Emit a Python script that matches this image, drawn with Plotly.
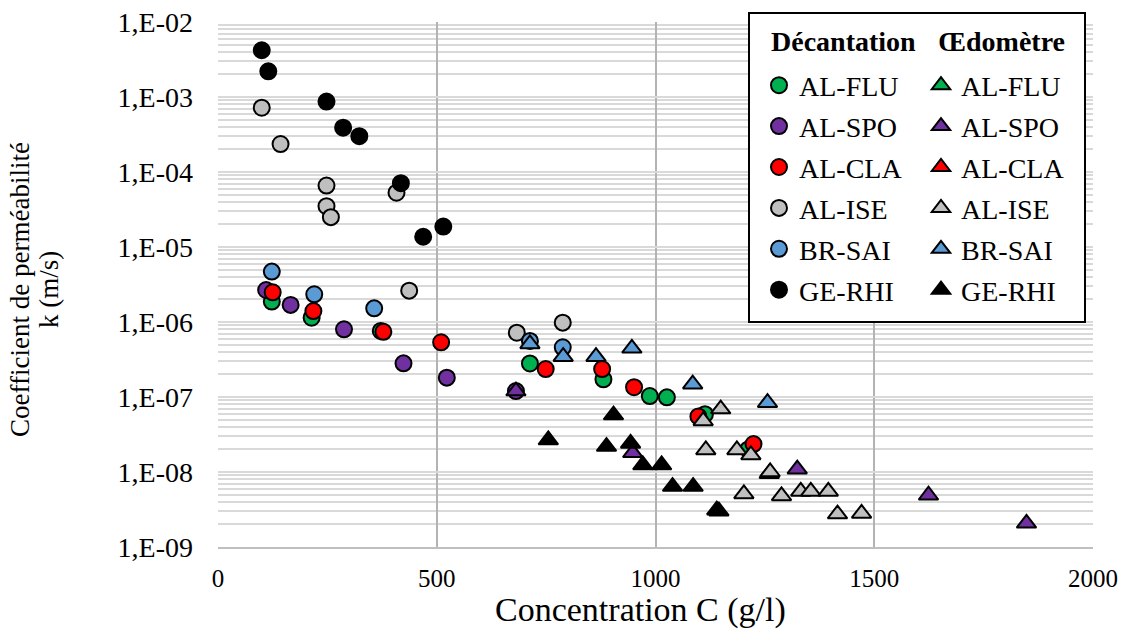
import plotly.graph_objects as go

FONT = "Liberation Serif"

# ---------------- data (concentration g/l, permeability m/s) ----------------
# Décantation (circles)
dec_flu_c = [123, 214, 372, 713, 881, 987, 1026, 1113, 1212]
dec_flu_k = [1.87e-6, 1.14e-6, 7.6e-7, 2.8e-7, 1.72e-7, 1.03e-7, 9.9e-8, 5.9e-8, 2.0e-8]

dec_spo_c = [110, 166, 288, 424, 523, 681]
dec_spo_k = [2.67e-6, 1.69e-6, 8.0e-7, 2.81e-7, 1.81e-7, 1.2e-7]

dec_cla_c = [125, 218, 378, 510, 749, 878, 951, 1098, 1224]
dec_cla_k = [2.49e-6, 1.4e-6, 7.4e-7, 5.36e-7, 2.36e-7, 2.36e-7, 1.35e-7, 5.5e-8, 2.36e-8]

dec_ise_c = [100, 143, 248, 248, 258, 408, 437, 683, 788]
dec_ise_k = [7.2e-4, 2.36e-4, 6.6e-5, 3.5e-5, 2.5e-5, 5.3e-5, 2.62e-6, 7.2e-7, 9.8e-7]

dec_sai_c = [123, 220, 357, 713, 788]
dec_sai_k = [4.7e-6, 2.34e-6, 1.52e-6, 5.6e-7, 4.6e-7]

dec_rhi_c = [100, 115, 248, 286, 323, 418, 469, 515]
dec_rhi_k = [4.2e-3, 2.2e-3, 8.7e-4, 3.9e-4, 3.0e-4, 7.1e-5, 1.37e-5, 1.87e-5]

# Œdomètre (triangles) -- no visible points for AL-FLU / AL-CLA
oed_flu_c = [None]
oed_flu_k = [None]

oed_spo_c = [681, 948, 1324, 1624, 1848]
oed_spo_k = [1.2e-7, 1.8e-8, 1.09e-8, 4.9e-9, 2.07e-9]

oed_cla_c = [None]
oed_cla_k = [None]

oed_ise_c = [1109, 1149, 1115, 1186, 1218, 1260, 1262, 1202, 1288, 1332, 1355, 1395, 1416, 1471]
oed_ise_k = [4.8e-8, 6.9e-8, 1.97e-8, 1.97e-8, 1.69e-8, 9.5e-9, 1.0e-8, 5.1e-9, 4.8e-9,
             5.5e-9, 5.5e-9, 5.5e-9, 2.75e-9, 2.8e-9]

oed_sai_c = [713, 789, 864, 946, 1085, 1256]
oed_sai_k = [5.1e-7, 3.45e-7, 3.45e-7, 4.46e-7, 1.48e-7, 8.4e-8]

oed_rhi_c = [755, 888, 904, 943, 971, 1014, 1039, 1086, 1140, 1145]
oed_rhi_k = [2.67e-8, 2.18e-8, 5.75e-8, 2.4e-8, 1.24e-8, 1.24e-8, 6.4e-9, 6.4e-9, 3.1e-9, 3.0e-9]

names = ["AL-FLU", "AL-SPO", "AL-CLA", "AL-ISE", "BR-SAI", "GE-RHI"]
colors = ["#00B050", "#7030A0", "#FF0000", "#BFBFBF", "#5B9BD5", "#000000"]

dec_series = [(dec_flu_c, dec_flu_k), (dec_spo_c, dec_spo_k), (dec_cla_c, dec_cla_k),
              (dec_ise_c, dec_ise_k), (dec_sai_c, dec_sai_k), (dec_rhi_c, dec_rhi_k)]
oed_series = [(oed_flu_c, oed_flu_k), (oed_spo_c, oed_spo_k), (oed_cla_c, oed_cla_k),
              (oed_ise_c, oed_ise_k), (oed_sai_c, oed_sai_k), (oed_rhi_c, oed_rhi_k)]

ytick_vals = [1e-9, 1e-8, 1e-7, 1e-6, 1e-5, 1e-4, 1e-3, 1e-2]
ytick_text = ["1,E-09", "1,E-08", "1,E-07", "1,E-06", "1,E-05", "1,E-04", "1,E-03", "1,E-02"]
xtick_vals = [0, 500, 1000, 1500, 2000]

fig = go.Figure()

for (c, k), name, col in zip(dec_series, names, colors):
    fig.add_trace(go.Scatter(
        x=c, y=k, mode="markers", name=name, legend="legend", legendgroup="d" + name,
        marker=dict(symbol="circle", size=16, color=col, line=dict(color="black", width=2)),
    ))

for (c, k), name, col in zip(oed_series, names, colors):
    fig.add_trace(go.Scatter(
        x=c, y=k, mode="markers", name=name, legend="legend2", legendgroup="o" + name,
        marker=dict(symbol="triangle-up", size=17, color=col, line=dict(color="black", width=2)),
    ))

PX_L, PX_R, PX_T, PX_B = 218, 1093, 22, 547
W, H = PX_R - PX_L, PX_B - PX_T


def px_x(p):
    return (p - PX_L) / W


def px_y(p):
    return (PX_B - p) / H


legend_font = dict(family=FONT, size=28, color="black")

fig.update_layout(
    width=1124, height=631,
    margin=dict(l=PX_L, r=1124 - PX_R, t=PX_T, b=631 - PX_B),
    paper_bgcolor="white", plot_bgcolor="white",
    font=dict(family=FONT, color="black"),
    xaxis=dict(
        range=[0, 2000], tickvals=xtick_vals, showgrid=True, gridcolor="#B3B3B3", gridwidth=1.5,
        zeroline=False, showline=True, linecolor="#BFBFBF", linewidth=1.5, ticks="",
        tickfont=dict(family=FONT, size=25, color="black"), automargin=False,
        ticklabelstandoff=8,
    ),
    yaxis=dict(
        type="log", range=[-9, -2], tickvals=ytick_vals, ticktext=ytick_text,
        showgrid=True, gridcolor="#D9D9D9", gridwidth=1.5, zeroline=False,
        showline=False, ticks="",
        minor=dict(dtick="D1", showgrid=True, gridcolor="#D9D9D9", gridwidth=1.5, ticks=""),
        tickfont=dict(family=FONT, size=28, color="black"), automargin=False,
        ticklabelstandoff=24,
    ),
    showlegend=True,
    legend=dict(
        x=px_x(759), y=px_y(60.5), xanchor="left", yanchor="top", bgcolor="rgba(0,0,0,0)",
        font=legend_font, tracegroupgap=1.5, itemsizing="trace",
    ),
    legend2=dict(
        x=px_x(921), y=px_y(60.5), xanchor="left", yanchor="top", bgcolor="rgba(0,0,0,0)",
        font=legend_font, tracegroupgap=1.5, itemsizing="trace",
    ),
    shapes=[dict(type="rect", xref="paper", yref="paper",
                 x0=px_x(749), x1=px_x(1085), y0=px_y(322), y1=px_y(13),
                 line=dict(color="black", width=2), fillcolor="white", layer="above")],
    annotations=[
        dict(text="<b>Décantation</b>", xref="paper", yref="paper",
             x=px_x(769), y=px_y(42), xanchor="left", yanchor="middle",
             showarrow=False, font=legend_font),
        dict(text="<b>Œdomètre</b>", xref="paper", yref="paper",
             x=px_x(936), y=px_y(42), xanchor="left", yanchor="middle",
             showarrow=False, font=legend_font),
        dict(text="Concentration C (g/l)", xref="paper", yref="paper",
             x=px_x(640), y=px_y(610), xanchor="center", yanchor="middle",
             showarrow=False, font=dict(family=FONT, size=34, color="black")),
        dict(text="Coefficient de perméabilité", xref="paper", yref="paper",
             x=px_x(20), y=px_y(290), xanchor="center", yanchor="middle",
             textangle=-90, showarrow=False, font=dict(family=FONT, size=27, color="black")),
        dict(text="k (m/s)", xref="paper", yref="paper",
             x=px_x(49), y=px_y(290), xanchor="center", yanchor="middle",
             textangle=-90, showarrow=False, font=dict(family=FONT, size=27, color="black")),
    ],
)

fig.write_html("out.html", config={"displayModeBar": False},
               post_script="document.body.style.margin='0px';")
